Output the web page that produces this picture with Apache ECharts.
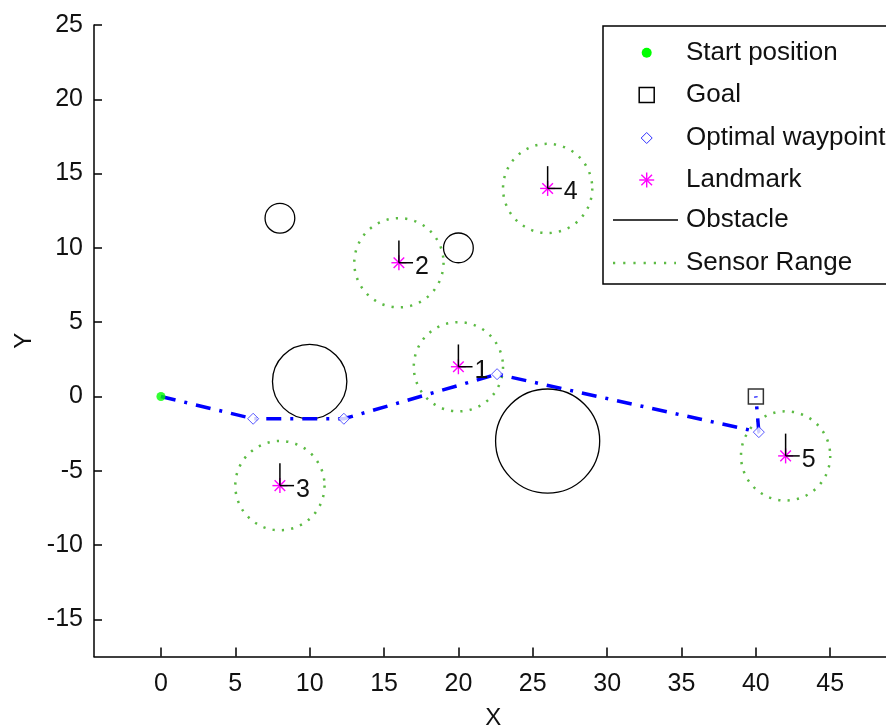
<!DOCTYPE html>
<html>
<head>
<meta charset="utf-8">
<script src="https://cdn.jsdelivr.net/npm/echarts@6/dist/echarts.min.js"></script>
<style>
  html, body { margin: 0; padding: 0; background: #fff; }
  #chart { width: 886px; height: 727px; }
</style>
</head>
<body>
<div id="chart"></div>
<script>
// Robot start, goal and the optimised route between them
const startPos = [0, 0];
const goalPos = [40, 0];
const waypointX = [6.2, 12.3, 22.6, 40.2];
const waypointY = [-1.5, -1.5, 1.5, -2.4];

// Landmarks with their ids and the sensing radius around each
const landmarkX = [20, 16, 8, 26, 42];
const landmarkY = [2, 9, -6, 14, -4];
const landmarkIds = ['1', '2', '3', '4', '5'];
const sensorRadius = 3;

// Circular obstacles: centre and radius
const obstacleX = [8, 20, 10, 26];
const obstacleY = [12, 10, 1, -3];
const obstacleR = [1, 1, 2.5, 3.5];

// Axis tick values
const xTicks = [0, 5, 10, 15, 20, 25, 30, 35, 40, 45];
const yTicks = [-15, -10, -5, 0, 5, 10, 15, 20, 25];

const FONT = '"Liberation Sans", Arial, Helvetica, sans-serif';
const BLUE = '#0000ff';
const SENSOR_GREEN = '#5cbb44';
const SENSOR_DASH = [2.2, 7.2];

const chart = echarts.init(document.getElementById('chart'), null, { renderer: 'canvas' });

const waypoints = waypointX.map((x, i) => [x, waypointY[i]]);
const route = [startPos].concat(waypoints, [goalPos]);
const obstacles = obstacleX.map((x, i) => [x, obstacleY[i], obstacleR[i]]);
const sensors = landmarkX.map((x, i) => [x, landmarkY[i], sensorRadius]);
const landmarks = landmarkX.map((x, i) => [x, landmarkY[i], i]);

// Draws a circle in data units from [cx, cy, r]
function circleRenderer(stroke, lineWidth, lineDash) {
  return function (params, api) {
    const c = api.coord([api.value(0), api.value(1)]);
    const s = api.size([api.value(2), api.value(2)]);
    return {
      type: 'circle',
      shape: { cx: c[0], cy: c[1], r: s[0] },
      style: { fill: 'none', stroke: stroke, lineWidth: lineWidth, lineDash: lineDash, lineCap: 'butt' }
    };
  };
}

// Asterisk marker built from four strokes
function asteriskLines(cx, cy, h, color, width, z) {
  const d = h * 0.7071;
  const segs = [
    [cx - h, cy, cx + h, cy],
    [cx, cy - h, cx, cy + h],
    [cx - d, cy - d, cx + d, cy + d],
    [cx - d, cy + d, cx + d, cy - d]
  ];
  return segs.map(s => {
    const el = {
      type: 'line',
      shape: { x1: s[0], y1: s[1], x2: s[2], y2: s[3] },
      style: { stroke: color, lineWidth: width }
    };
    if (z != null) el.z = z;
    return el;
  });
}

// Landmark: magenta asterisk, black heading axes, id label
function landmarkRenderer(params, api) {
  const x = api.value(0), y = api.value(1);
  const idx = api.value(2);
  const p = api.coord([x, y]);
  const up = api.coord([x, y + 1.5]);
  const right = api.coord([x + 0.95, y]);
  const children = asteriskLines(p[0], p[1], 7.5, '#ff00ff', 1.4);
  children.push({
    type: 'line',
    shape: { x1: p[0], y1: p[1], x2: up[0], y2: up[1] },
    style: { stroke: '#000', lineWidth: 1.5 }
  });
  children.push({
    type: 'line',
    shape: { x1: p[0], y1: p[1], x2: right[0], y2: right[1] },
    style: { stroke: '#000', lineWidth: 1.5 }
  });
  children.push({
    type: 'text',
    x: right[0] + 2,
    y: right[1] + 4,
    style: {
      text: landmarkIds[idx],
      fill: '#111',
      fontSize: 25,
      fontFamily: FONT,
      align: 'left',
      verticalAlign: 'middle'
    }
  });
  return { type: 'group', children: children };
}

// Legend drawn as graphic elements
const LX = 646.7;
const LT = 686;
const legendRows = [52.7, 95, 138, 180, 220, 263];
const legendLabels = ['Start position', 'Goal', 'Optimal waypoint', 'Landmark', 'Obstacle', 'Sensor Range'];
const legendGraphics = [
  {
    type: 'rect',
    shape: { x: 603, y: 26, width: 300, height: 258 },
    style: { fill: '#fff', stroke: '#000', lineWidth: 1.5 },
    z: 100
  },
  {
    type: 'circle',
    shape: { cx: LX, cy: legendRows[0], r: 5 },
    style: { fill: '#00ff00' },
    z: 101
  },
  {
    type: 'rect',
    shape: { x: LX - 7.5, y: legendRows[1] - 7.5, width: 15, height: 15 },
    style: { fill: 'none', stroke: '#000', lineWidth: 1.5 },
    z: 101
  },
  {
    type: 'polygon',
    shape: { points: [[LX, legendRows[2] - 5.5], [LX + 5.5, legendRows[2]], [LX, legendRows[2] + 5.5], [LX - 5.5, legendRows[2]]] },
    style: { fill: 'none', stroke: '#3030ff', lineWidth: 1 },
    z: 101
  },
  {
    type: 'line',
    shape: { x1: 613, y1: legendRows[4], x2: 678, y2: legendRows[4] },
    style: { stroke: '#000', lineWidth: 1.5 },
    z: 101
  },
  {
    type: 'line',
    shape: { x1: 613, y1: legendRows[5], x2: 676, y2: legendRows[5] },
    style: { stroke: SENSOR_GREEN, lineWidth: 2.5, lineDash: [2.2, 8] },
    z: 101
  }
].concat(
  asteriskLines(LX, legendRows[3], 7.5, '#ff00ff', 1.4, 101),
  legendLabels.map((t, i) => ({
    type: 'text',
    x: LT,
    y: legendRows[i],
    z: 101,
    style: {
      text: t,
      fill: '#111',
      fontSize: 26,
      fontFamily: FONT,
      align: 'left',
      verticalAlign: 'middle'
    }
  }))
);

const option = {
  animation: false,
  backgroundColor: '#fff',
  grid: { left: 94, top: 25, width: 798.7, height: 631.5, containLabel: false, outerBoundsMode: 'none' },
  xAxis: {
    type: 'value',
    min: -4.5,
    max: 49.2,
    name: 'X',
    nameLocation: 'middle',
    nameGap: 50,
    nameTextStyle: { fontSize: 24, fontFamily: FONT, color: '#111' },
    axisLine: { show: true, onZero: false, lineStyle: { color: '#000', width: 1.5 } },
    axisTick: { show: true, inside: true, length: 9, customValues: xTicks, lineStyle: { color: '#000', width: 1.5 } },
    axisLabel: { customValues: xTicks, fontSize: 25, fontFamily: FONT, color: '#111', margin: 15 },
    splitLine: { show: false }
  },
  yAxis: {
    type: 'value',
    min: -17.5,
    max: 25,
    name: 'Y',
    nameLocation: 'middle',
    nameGap: 57,
    nameRotate: 90,
    nameTextStyle: { fontSize: 24, fontFamily: FONT, color: '#111' },
    axisLine: { show: true, onZero: false, lineStyle: { color: '#000', width: 1.5 } },
    axisTick: { show: true, inside: true, length: 8, customValues: yTicks, lineStyle: { color: '#000', width: 1.5 } },
    axisLabel: { customValues: yTicks, fontSize: 25, fontFamily: FONT, color: '#111', margin: 11 },
    splitLine: { show: false }
  },
  graphic: legendGraphics,
  series: [
    {
      name: 'Obstacle',
      type: 'custom',
      data: obstacles,
      encode: { x: 0, y: 1 },
      renderItem: circleRenderer('#000', 1.3, null),
      z: 2
    },
    {
      name: 'Sensor Range',
      type: 'custom',
      data: sensors,
      encode: { x: 0, y: 1 },
      renderItem: circleRenderer(SENSOR_GREEN, 2.5, SENSOR_DASH),
      z: 2
    },
    {
      name: 'Route',
      type: 'line',
      data: route,
      symbol: 'none',
      lineStyle: { color: BLUE, width: 3.5, type: [15, 9, 3, 9] },
      z: 3
    },
    {
      name: 'Optimal waypoint',
      type: 'scatter',
      data: waypoints,
      symbol: 'diamond',
      symbolSize: 11,
      itemStyle: { color: '#fff', borderColor: '#3030ff', borderWidth: 1 },
      z: 4
    },
    {
      name: 'Goal',
      type: 'scatter',
      data: [goalPos],
      symbol: 'rect',
      symbolSize: 15,
      itemStyle: { color: 'rgba(0,0,0,0)', borderColor: '#000', borderWidth: 1.5 },
      z: 4
    },
    {
      name: 'Start position',
      type: 'scatter',
      data: [startPos],
      symbol: 'circle',
      symbolSize: 9,
      itemStyle: { color: '#00ff00' },
      z: 5
    },
    {
      name: 'Landmark',
      type: 'custom',
      data: landmarks,
      encode: { x: 0, y: 1 },
      renderItem: landmarkRenderer,
      z: 5
    }
  ]
};

chart.setOption(option);
</script>
</body>
</html>
